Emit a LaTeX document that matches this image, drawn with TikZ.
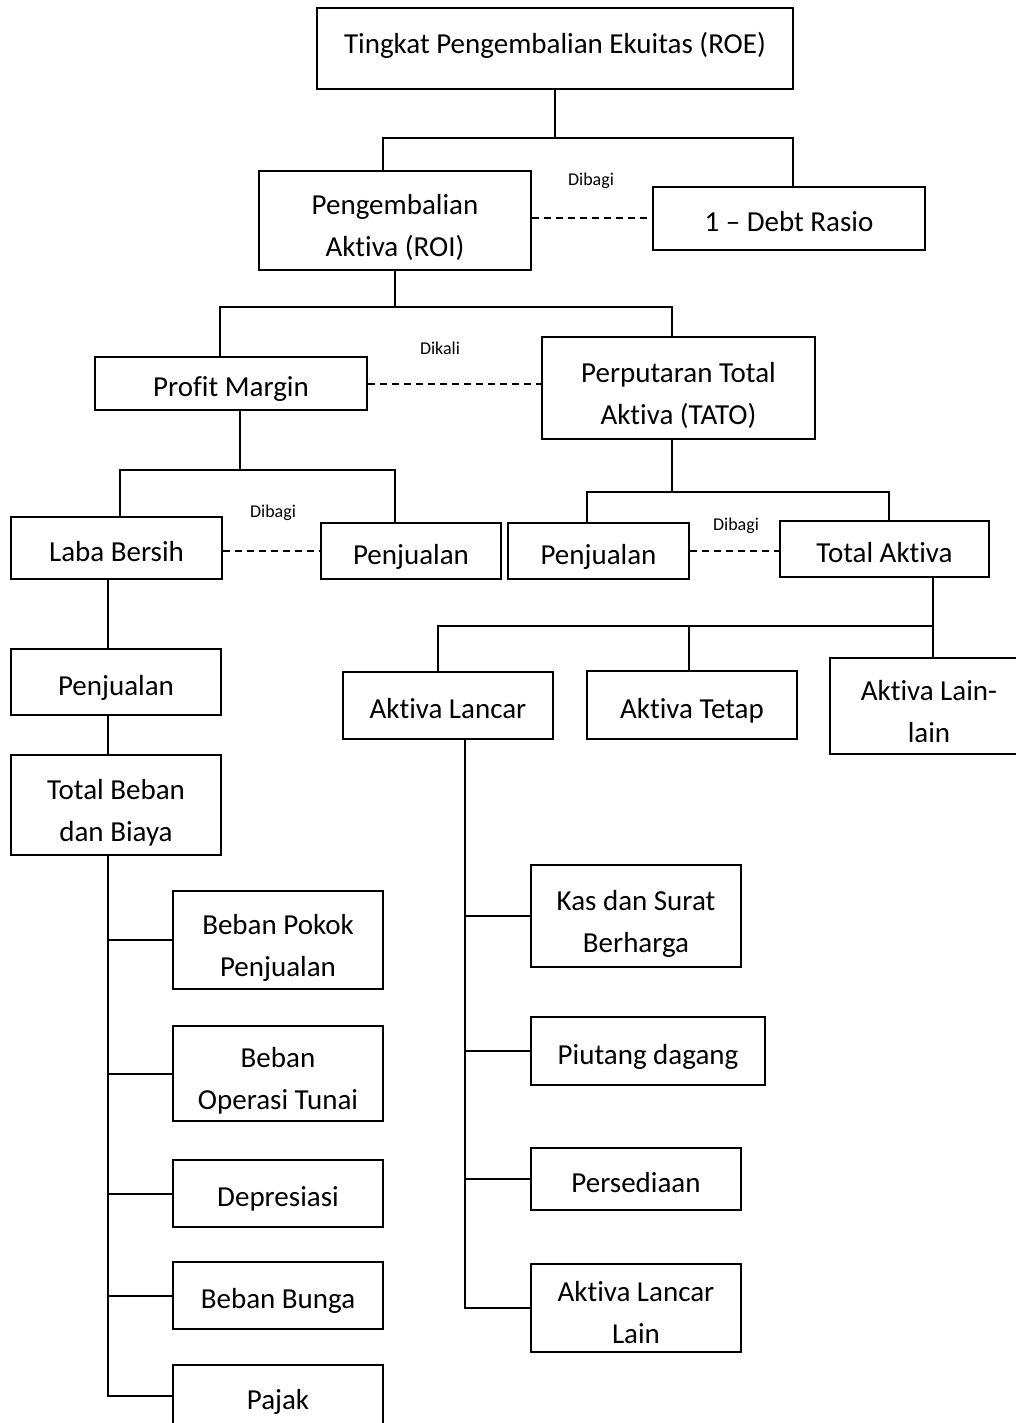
\documentclass[tikz,border=0pt]{standalone}
\usepackage{fontspec}
\setmainfont{Carlito}[RawFeature={-liga,-clig,-calt}]
\usetikzlibrary{positioning,calc}
\newcommand\boxstrut{\rule[-7.6pt]{0pt}{42pt}}
\newcommand\tallstrut{\rule[-7.6pt]{0pt}{46pt}}

\begin{document}
\begin{tikzpicture}[
    x=1pt, y=-1pt,
    box/.style={rectangle, draw, line width=2pt, inner sep=0pt, align=center,
        font=\fontsize{29}{42}\selectfont,
        execute at begin node=\boxstrut, execute at end node=\boxstrut},
    lbl/.style={font=\fontsize{18}{22}\selectfont},
    link/.style={line width=2pt},
    dashlink/.style={line width=2pt, dash pattern=on 7pt off 5pt}
]
    \useasboundingbox (0,0) rectangle (1015,1423);

    \node[box, minimum width=476pt, minimum height=81pt] (roe) at (555,48.5) {Tingkat Pengembalian Ekuitas (ROE)\rule[-24pt]{0pt}{1pt}};
    \node[box, minimum width=272pt, minimum height=99pt] (roi) at (395,220.5) {\tallstrut Pengembalian\\Aktiva (ROI)};
    \node[box, minimum width=272pt, minimum height=63pt] (debt) at (789,218.5) {1 – Debt Rasio};
    \node[box, minimum width=272pt, minimum height=53pt] (pm) at (231,383.5) {Profit Margin};
    \node[box, minimum width=273pt, minimum height=102pt] (tato) at (678.5,388) {\tallstrut Perputaran Total\\Aktiva (TATO)};
    \node[box, minimum width=211pt, minimum height=62pt] (laba) at (116.5,548) {Laba Bersih};
    \node[box, minimum width=180pt, minimum height=56pt] (jual1) at (411,551) {Penjualan};
    \node[box, minimum width=181pt, minimum height=56pt] (jual2) at (598.5,551) {Penjualan};
    \node[box, minimum width=209pt, minimum height=56pt] (ta) at (884.5,549) {Total Aktiva};
    \node[box, minimum width=210pt, minimum height=66pt] (jual3) at (116,682) {Penjualan};
    \node[box, minimum width=210pt, minimum height=100pt] (tbb) at (116,805) {\tallstrut Total Beban\\dan Biaya};
    \node[box, minimum width=210pt, minimum height=67pt] (lancar) at (448,705.5) {Aktiva Lancar};
    \node[box, minimum width=210pt, minimum height=68pt] (tetap) at (692,705) {Aktiva Tetap};
    \node[box, minimum width=198pt, minimum height=96pt] (lain) at (929,706) {\tallstrut Aktiva Lain-\\lain};
    \node[box, minimum width=210pt, minimum height=98pt] (bpp) at (278,940) {\tallstrut Beban Pokok\\Penjualan};
    \node[box, minimum width=210pt, minimum height=95pt] (bot) at (278,1073.5) {\tallstrut Beban\\Operasi Tunai};
    \node[box, minimum width=210pt, minimum height=67pt] (dep) at (278,1193.5) {Depresiasi};
    \node[box, minimum width=210pt, minimum height=67pt] (bunga) at (278,1295.5) {Beban Bunga};
    \node[box, minimum width=210pt, minimum height=62pt] (pajak) at (278,1396) {Pajak};
    \node[box, minimum width=210pt, minimum height=102pt] (kas) at (636,916) {\tallstrut Kas dan Surat\\Berharga};
    \node[box, minimum width=234pt, minimum height=68pt] (piutang) at (648,1051) {Piutang dagang};
    \node[box, minimum width=210pt, minimum height=62pt] (sedia) at (636,1179) {Persediaan};
    \node[box, minimum width=210pt, minimum height=87pt] (alain) at (636,1307.5) {\tallstrut Aktiva Lancar\\Lain};

    \node[lbl] (op1) at (591,181) {Dibagi};
    \node[lbl] (op2) at (440,348) {Dikali};
    \node[lbl] (op3) at (273,513) {Dibagi};
    \node[lbl] (op4) at (736,526) {Dibagi};

    \draw[link] (roe.south) -- ++(0,48) -| ([xshift=-12pt]roi.north);
    \draw[link] (roe.south) ++(0,48) -| ([xshift=4pt]debt.north);
    \draw[link] (roi.south) -- ++(0,36) -| ([xshift=-11pt]pm.north);
    \draw[link] (roi.south) ++(0,36) -| ([xshift=-6.5pt]tato.north);
    \draw[link] ([xshift=9pt]pm.south) -- ++(0,59) -| ([xshift=3pt]laba.north);
    \draw[link] ([xshift=9pt]pm.south) ++(0,59) -| ([xshift=-16pt]jual1.north);
    \draw[link] ([xshift=-6.5pt]tato.south) -- ++(0,52) -| ([xshift=-11.5pt]jual2.north);
    \draw[link] ([xshift=-6.5pt]tato.south) ++(0,52) -| ([xshift=4.5pt]ta.north);
    \draw[link] ([xshift=48.5pt]ta.south) -- ++(0,48) -| ([xshift=-10pt]lancar.north);
    \draw[link] ([xshift=48.5pt]ta.south) ++(0,48) -| ([xshift=-3pt]tetap.north);
    \draw[link] ([xshift=48.5pt]ta.south) -- ([xshift=4pt]lain.north);

    \draw[link] ([xshift=-8.5pt]laba.south) -- ([xshift=-8pt]jual3.north);
    \draw[link] ([xshift=-8pt]jual3.south) -- ([xshift=-8pt]tbb.north);
    \coordinate (tspine) at ([xshift=-8pt]tbb.south);
    \draw[link] (tspine) |- (pajak.west);
    \foreach \n in {bpp,bot,dep,bunga}
        \draw[link] (\n.west -| tspine) -- (\n.west);

    \coordinate (aspine) at ([xshift=17pt]lancar.south);
    \draw[link] (aspine) |- (alain.west);
    \foreach \n in {kas,piutang,sedia}
        \draw[link] (\n.west -| aspine) -- (\n.west);

    \draw[dashlink] (roi.east |- debt.west) -- (debt.west);
    \draw[dashlink] (pm.east) -- (pm.east -| tato.west);
    \draw[dashlink] (laba.east |- jual1.west) -- (jual1.west);
    \draw[dashlink] (jual2.east) -- (jual2.east -| ta.west);
\end{tikzpicture}
\end{document}
